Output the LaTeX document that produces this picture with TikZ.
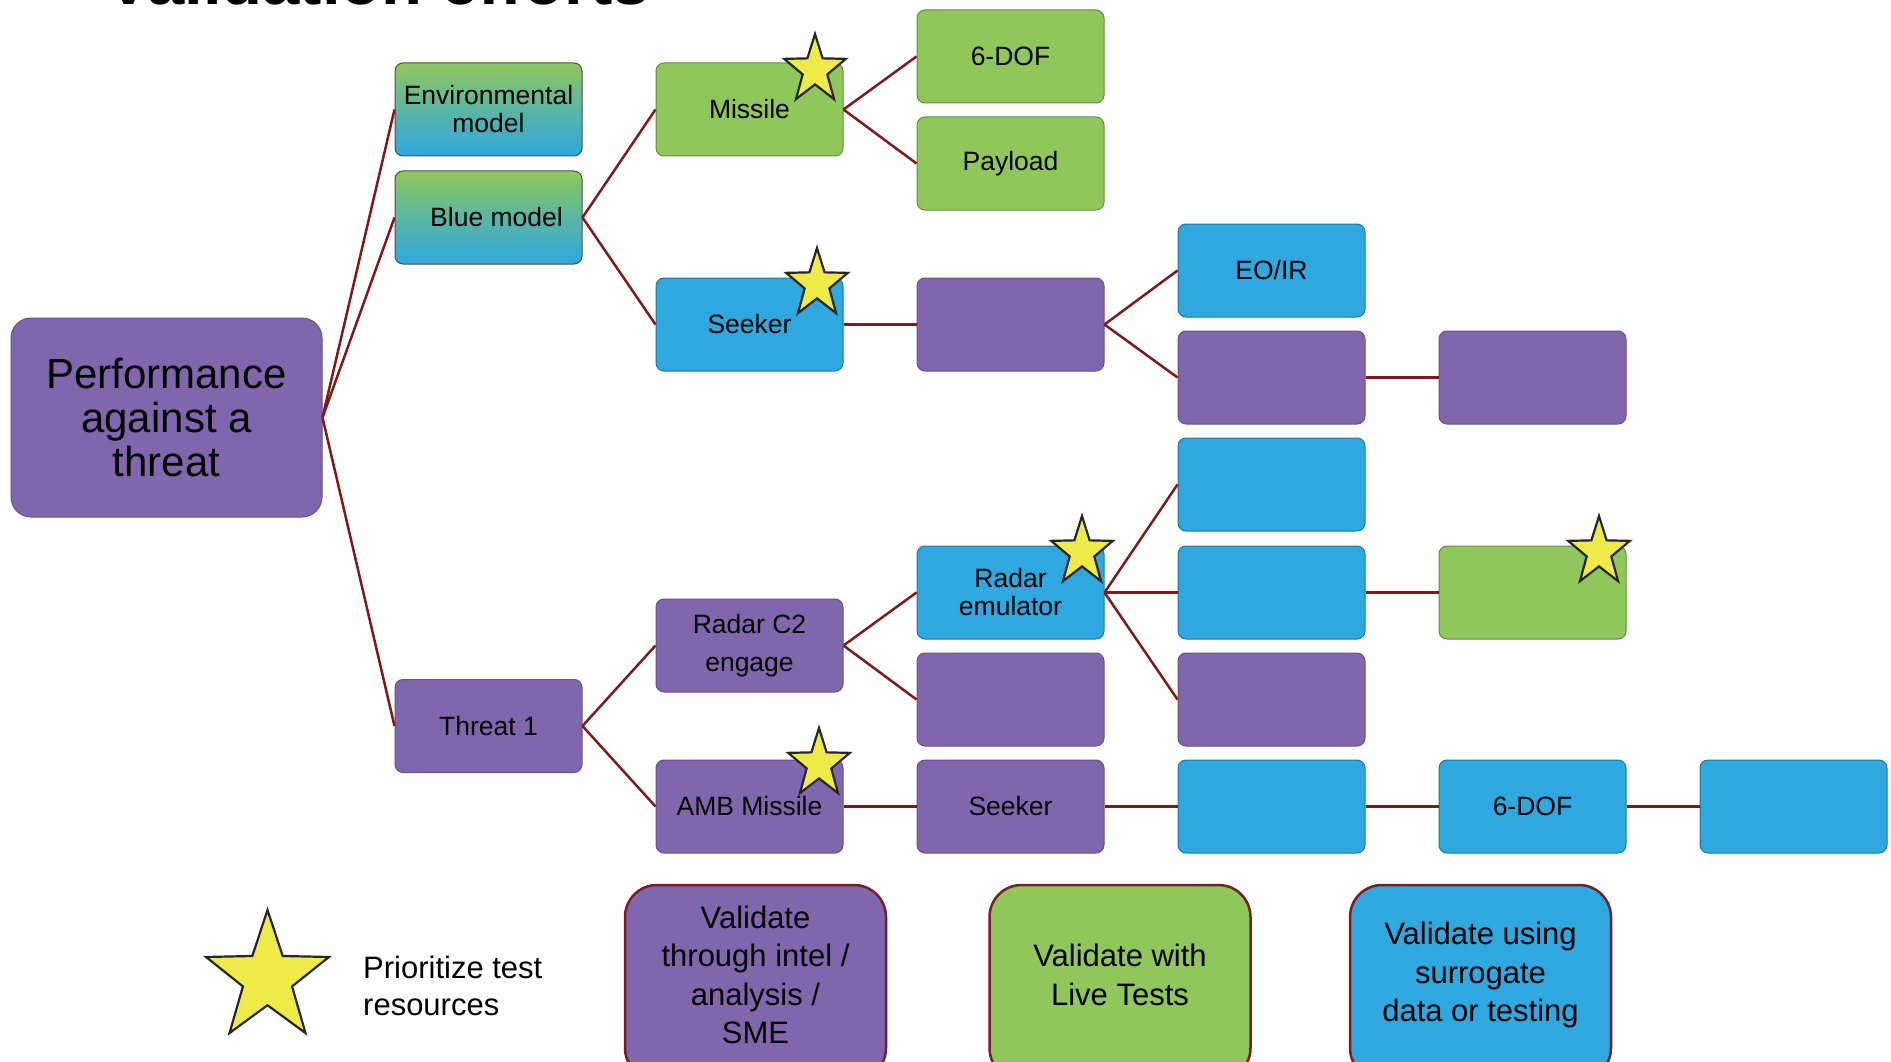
\documentclass[tikz,border=0pt]{standalone}
\usepackage{fontspec}
\setmainfont{Liberation Sans}

\definecolor{boxpurple}{RGB}{128,103,173}
\definecolor{boxgreen}{RGB}{143,199,90}
\definecolor{boxblue}{RGB}{47,168,223}
\definecolor{linkred}{RGB}{128,26,26}
\definecolor{staryellow}{RGB}{238,235,72}
\definecolor{legendedge}{RGB}{120,30,40}

% five-pointed priority star: centre x, centre y, outer radius, x-scale
\newcommand{\drawprstar}[4]{%
  \begin{scope}[shift={(#1,#2)},xscale=#4]
    \draw[prstar] (-90:#3) -- (-54:{0.4*#3}) -- (-18:#3) -- (18:{0.4*#3})
      -- (54:#3) -- (90:{0.4*#3}) -- (126:#3) -- (162:{0.4*#3})
      -- (198:#3) -- (234:{0.4*#3}) -- cycle;
  \end{scope}}

\tikzset{
  cell/.style={rectangle, rounded corners=8pt, minimum width=187pt,
    minimum height=93pt, inner sep=0pt, align=center, line width=1pt,
    font=\fontsize{26.5}{28}\selectfont},
  pcell/.style={cell, fill=boxpurple, draw=boxpurple!80!black},
  gcell/.style={cell, fill=boxgreen, draw=boxgreen!70!black},
  bcell/.style={cell, fill=boxblue, draw=boxblue!70!black},
  gbcell/.style={cell, top color=boxgreen, bottom color=boxblue,
    middle color=boxgreen!45!boxblue, draw=gray!60!black},
  link/.style={draw=linkred, line width=2.5pt},
  prstar/.style={fill=staryellow, draw=black!85, line width=2.2pt, line join=miter},
  keybox/.style={rectangle, rounded corners=32pt, minimum width=261pt,
    minimum height=195pt, line width=2.5pt, draw=legendedge},
  keytext/.style={align=center, font=\fontsize{31}{38.5}\selectfont},
}

\begin{document}
\begin{tikzpicture}[x=1pt, y=-1pt]
\useasboundingbox (0,0) rectangle (1891,1062);
\clip (0,0) rectangle (1891,1062);

% heading, mostly above the frame
\node[anchor=base west, inner sep=0pt, font=\bfseries\fontsize{67}{67}\selectfont]
  (title) at (106,5) {Validation efforts};

% root
\node[pcell, minimum width=311pt, minimum height=199pt, rounded corners=20pt,
  font=\fontsize{42}{44}\selectfont] (perf) at (166.5,417.5)
  {Performance\\against a\\threat};

% first level
\node[gbcell] (env)    at (488.5,109.5) {Environmental\\model};
\node[gbcell] (blue)   at (488.5,217.5) {\hspace*{16pt}Blue model};
\node[pcell]  (threat) at (488.5,726)   {Threat 1};

% blue branch
\node[gcell] (missile) at (749.5,109.5) {Missile};
\node[bcell] (seeker)  at (749.5,324.5) {Seeker};
\node[gcell] (dof)     at (1010.5,56.5)  {6-DOF};
\node[gcell] (payload) at (1010.5,163.5) {Payload};
\node[pcell] (sk2)     at (1010.5,324.5) {};
\node[bcell] (eoir)    at (1271.5,270.5) {EO/IR};
\node[pcell] (sk3)     at (1271.5,377.5) {};
\node[pcell] (sk4)     at (1532.5,377.5) {};

% threat branch
\node[pcell] (rctwo)   at (749.5,645.5) {Radar C2\\[10pt]engage};
\node[pcell] (amb)     at (749.5,806.5) {AMB Missile};
\node[bcell] (remu)    at (1010.5,592.5) {Radar\\emulator};
\node[pcell] (rcb)     at (1010.5,699.5) {};
\node[bcell] (emu1)    at (1271.5,484.5) {};
\node[bcell] (emu2)    at (1271.5,592.5) {};
\node[pcell] (emu3)    at (1271.5,699.5) {};
\node[gcell] (emu4)    at (1532.5,592.5) {};
\node[pcell] (aseek)   at (1010.5,806.5) {Seeker};
\node[bcell] (ab3)     at (1271.5,806.5) {};
\node[bcell] (adof)    at (1532.5,806.5) {6-DOF};
\node[bcell] (ab5)     at (1793.5,806.5) {};

% connectors
\draw[link] (perf.east) -- (env.west);
\draw[link] (perf.east) -- (blue.west);
\draw[link] (perf.east) -- (threat.west);
\draw[link] (blue.east) -- (missile.west);
\draw[link] (blue.east) -- (seeker.west);
\draw[link] (missile.east) -- (dof.west);
\draw[link] (missile.east) -- (payload.west);
\draw[link] (seeker.east) -- (sk2.west);
\draw[link] (sk2.east) -- (eoir.west);
\draw[link] (sk2.east) -- (sk3.west);
\draw[link] (sk3.east) -- (sk4.west);
\draw[link] (threat.east) -- (rctwo.west);
\draw[link] (threat.east) -- (amb.west);
\draw[link] (rctwo.east) -- (remu.west);
\draw[link] (rctwo.east) -- (rcb.west);
\draw[link] (remu.east) -- (emu1.west);
\draw[link] (remu.east) -- (emu2.west);
\draw[link] (remu.east) -- (emu3.west);
\draw[link] (emu2.east) -- (emu4.west);
\draw[link] (amb.east) -- (aseek.west);
\draw[link] (aseek.east) -- (ab3.west);
\draw[link] (ab3.east) -- (adof.west);
\draw[link] (adof.east) -- (ab5.west);

% priority stars
\drawprstar{815}{70}{36}{0.9}
\drawprstar{817}{284}{36}{0.9}
\drawprstar{1082}{552}{36}{0.9}
\drawprstar{819}{764}{36}{0.9}
\drawprstar{1599}{552}{36}{0.9}

% key
\drawprstar{267.5}{978}{68}{0.95}
\node[anchor=west, align=left, inner sep=0pt, font=\fontsize{31}{37.5}\selectfont]
  (prio) at (363,986) {Prioritize test\\resources};

\node[keybox, fill=boxpurple] (kintel) at (755.5,982.5) {};
\node[keybox, fill=boxgreen]  (klive)  at (1120,982.5) {};
\node[keybox, fill=boxblue]   (ksurr)  at (1480.5,982.5) {};
\node[keytext] (tintel) at (755.5,975) {Validate\\through intel /\\analysis /\\SME};
\node[keytext] (tlive)  at (1120,975)  {Validate with\\Live Tests};
\node[keytext] (tsurr)  at (1480.5,975) {Validate using\\surrogate\\data or testing};
\end{tikzpicture}
\end{document}
